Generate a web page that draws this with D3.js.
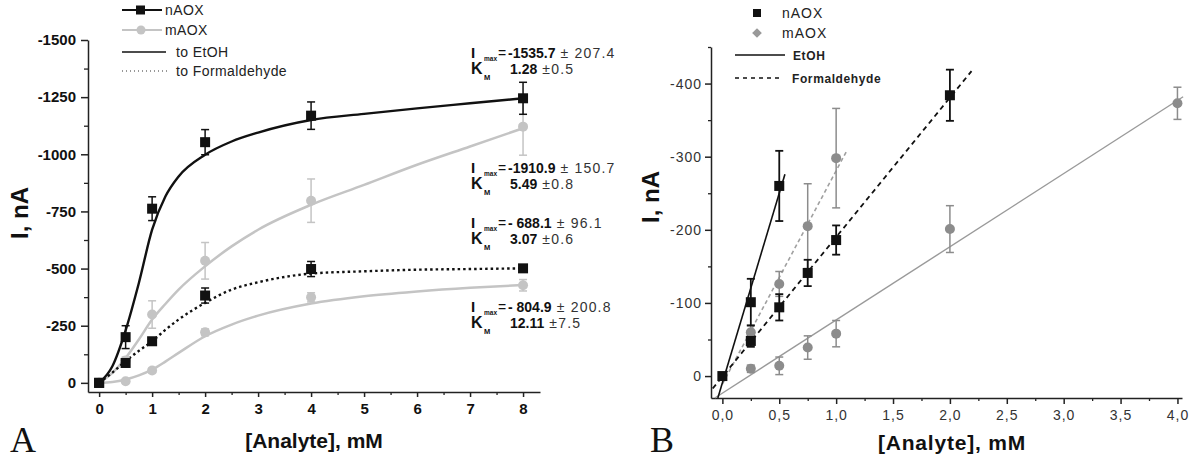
<!DOCTYPE html>
<html><head><meta charset="utf-8">
<script src="https://cdn.jsdelivr.net/npm/d3@7"></script>
<style>
body{margin:0;background:#fff;}
svg{display:block;font-family:'Liberation Sans',Arial,sans-serif;}
</style></head>
<body>
<script>
// ---------- DATA: panel A ----------
const concA = [0, 0.5, 1, 2, 4, 8];
const nAOX_EtOH_A = [0, -200, -762, -1053, -1169, -1245];
const nAOX_EtOH_A_err = [0, 50, 52, 55, 60, 70];
const mAOX_hi_A = [0, -98, -299, -534, -797, -1121];
const mAOX_hi_A_err = [0, 15, 60, 80, 95, 125];
const nAOX_Form_A = [0, -87, -182, -382, -498, -501];
const nAOX_Form_A_err = [0, 15, 12, 33, 33, 10];
const mAOX_lo_A = [0, -7, -54, -221, -374, -427];
const mAOX_lo_A_err = [0, 5, 10, 15, 20, 25];

const fitX_A = [0, 0.25, 0.5, 0.75, 1, 1.25, 1.5, 2, 2.5, 3, 4, 5, 6, 7, 8];
const fit_nEtOH_A = [0, -73, -230, -437, -670, -815, -903, -998, -1056, -1095, -1150, -1177, -1201, -1223, -1245];
const fit_mHi_A = [0, -44, -109, -190, -277, -345, -408, -510, -597, -670, -779, -866, -954, -1034, -1114];
const fit_nForm_A = [0, -45, -95, -140, -182, -232, -277, -350, -408, -440, -478, -488, -495, -498, -501];
const fit_mLo_A = [0, -4, -15, -33, -58, -93, -131, -204, -255, -294, -347, -379, -400, -416, -428];

const xTicksA = [0, 1, 2, 3, 4, 5, 6, 7, 8];
const xMinorA = [0.5, 1.5, 2.5, 3.5, 4.5, 5.5, 6.5, 7.5];
const yTicksA = [0, -250, -500, -750, -1000, -1250, -1500];
const yMinorA = [-125, -375, -625, -875, -1125, -1375];

const annImax = ["-1535.7", "-1910.9", "- 688.1", "- 804.9"];
const annImaxErr = ["207.4", "150.7", "96.1", "200.8"];
const annKm = ["1.28", "5.49", "3.07", "12.11"];
const annKmErr = ["0.5", "0.8", "0.6", "7.5"];

const legendA = ["nAOX", "mAOX", "to EtOH", "to Formaldehyde"];

// ---------- DATA: panel B ----------
const conc_nEtOH_B = [0, 0.25, 0.5];
const val_nEtOH_B = [0, -101, -260];
const err_nEtOH_B = [0, 32, 48];
const conc_nForm_B = [0.25, 0.5, 0.75, 1, 2];
const val_nForm_B = [-48, -94, -141, -186, -384];
const err_nForm_B = [8, 18, 18, 20, 35];
const conc_mForm_B = [0.25, 0.5, 0.75, 1];
const val_mForm_B = [-60, -126, -205, -298];
const err_mForm_B = [10, 17, 58, 68];
const conc_mEtOH_B = [0.25, 0.5, 0.75, 1, 2, 4];
const val_mEtOH_B = [-10, -14, -39, -58, -201, -373];
const err_mEtOH_B = [5, 12, 16, 18, 32, 22];

const fitX_nEtOH_B = [-0.04, 0.55], fitY_nEtOH_B = [30, -276];
const fitX_nForm_B = [-0.085, 2.19], fitY_nForm_B = [17, -417];
const fitX_mForm_B = [0, 1.1], fitY_mForm_B = [11, -310];
const fitX_mEtOH_B = [-0.066, 4.05], fitY_mEtOH_B = [30, -382];

const xTicksB = [0, 0.5, 1, 1.5, 2, 2.5, 3, 3.5, 4];
const xMinorB = [0.25, 0.75, 1.25, 1.75, 2.25, 2.75, 3.25, 3.75];
const yTicksB = [0, -100, -200, -300, -400];
const yMinorB = [-50, -150, -250, -350, -450];

const legendB = ["nAOX", "mAOX", "EtOH", "Formaldehyde"];

// ---------- DRAW ----------
const svg = d3.select("body").append("svg").attr("width", 1200).attr("height", 460);
const zip = (xs, ys) => xs.map((x, i) => [x, ys[i]]);
const LIGHT = "#c4c4c4", DARKGRAY = "#8c8c8c";

// ===== Panel A =====
const xA = d3.scaleLinear().domain([-0.21, 8.32]).range([88, 540]);
const yA = d3.scaleLinear().domain([40, -1500]).range([392, 40]);
const gA = svg.append("g");

function axisStyle(g, color) {
  g.selectAll("path.domain").attr("stroke", color).attr("stroke-width", 1.5);
  g.selectAll(".tick line").attr("stroke", color).attr("stroke-width", 1.5);
}
// x axis
const gxA = gA.append("g").attr("transform", "translate(0,392)")
  .call(d3.axisBottom(xA).tickValues(xTicksA).tickSize(5).tickSizeOuter(0).tickFormat(d => String(d)));
axisStyle(gxA, "#222");
gxA.selectAll("text").attr("font-size", 15).attr("font-weight", "bold").attr("fill", "#111").attr("dy", "0.9em").attr("y", 8);
gA.append("g").attr("transform", "translate(0,392)")
  .call(d3.axisBottom(xA).tickValues(xMinorA).tickSize(3).tickFormat(""))
  .call(g => { g.select("path.domain").remove(); g.selectAll("line").attr("stroke", "#222").attr("stroke-width", 1.3); });
// y axis
const gyA = gA.append("g").attr("transform", "translate(88,0)")
  .call(d3.axisLeft(yA).tickValues(yTicksA).tickSize(7).tickSizeOuter(0).tickFormat(d => String(d)));
axisStyle(gyA, "#222");
gyA.selectAll("text").attr("font-size", 15).attr("font-weight", "bold").attr("fill", "#111").attr("x", -12);
gA.append("g").attr("transform", "translate(88,0)")
  .call(d3.axisLeft(yA).tickValues(yMinorA).tickSize(4).tickFormat(""))
  .call(g => { g.select("path.domain").remove(); g.selectAll("line").attr("stroke", "#222").attr("stroke-width", 1.3); });

// titles
gA.append("text").attr("x", 314).attr("y", 448).attr("text-anchor", "middle")
  .attr("font-size", 21).attr("font-weight", "bold").attr("fill", "#111").text("[Analyte], mM");
gA.append("text").attr("transform", "translate(28,213) rotate(-90)").attr("text-anchor", "middle")
  .attr("font-size", 24).attr("font-weight", "bold").attr("fill", "#111").text("I, nA");
gA.append("text").attr("x", 10).attr("y", 452).attr("font-family", "'Liberation Serif','Times New Roman',serif")
  .attr("font-size", 36).attr("fill", "#111").text("A");

// curves
const lineA = d3.line().x(d => xA(d[0])).y(d => yA(d[1])).curve(d3.curveMonotoneX);
gA.append("path").datum(zip(fitX_A, fit_mLo_A)).attr("d", lineA).attr("fill", "none").attr("stroke", LIGHT).attr("stroke-width", 2.5);
gA.append("path").datum(zip(fitX_A, fit_mHi_A)).attr("d", lineA).attr("fill", "none").attr("stroke", LIGHT).attr("stroke-width", 2.5);
gA.append("path").datum(zip(fitX_A, fit_nForm_A)).attr("d", lineA).attr("fill", "none").attr("stroke", "#111").attr("stroke-width", 2.4).attr("stroke-dasharray", "2.5,3");
gA.append("path").datum(zip(fitX_A, fit_nEtOH_A)).attr("d", lineA).attr("fill", "none").attr("stroke", "#111").attr("stroke-width", 2.4);

function errBars(g, xs, ys, es, xS, yS, color, w, cap) {
  const d = xs.map((x, i) => ({ x, y: ys[i], e: es[i] })).filter(d => d.e > 0);
  const eg = g.append("g").attr("stroke", color).attr("stroke-width", w);
  eg.selectAll(".v").data(d).join("line").attr("x1", d => xS(d.x)).attr("x2", d => xS(d.x))
    .attr("y1", d => yS(d.y - d.e)).attr("y2", d => yS(d.y + d.e));
  eg.selectAll(".t").data(d).join("line").attr("x1", d => xS(d.x) - cap).attr("x2", d => xS(d.x) + cap)
    .attr("y1", d => yS(d.y - d.e)).attr("y2", d => yS(d.y - d.e));
  eg.selectAll(".b").data(d).join("line").attr("x1", d => xS(d.x) - cap).attr("x2", d => xS(d.x) + cap)
    .attr("y1", d => yS(d.y + d.e)).attr("y2", d => yS(d.y + d.e));
}
function squares(g, xs, ys, xS, yS, color, s) {
  g.append("g").selectAll("rect").data(zip(xs, ys)).join("rect")
    .attr("x", d => xS(d[0]) - s / 2).attr("y", d => yS(d[1]) - s / 2).attr("width", s).attr("height", s).attr("fill", color);
}
function circles(g, xs, ys, xS, yS, color, r) {
  g.append("g").selectAll("circle").data(zip(xs, ys)).join("circle")
    .attr("cx", d => xS(d[0])).attr("cy", d => yS(d[1])).attr("r", r).attr("fill", color);
}
errBars(gA, concA, mAOX_lo_A, mAOX_lo_A_err, xA, yA, LIGHT, 1.5, 4);
errBars(gA, concA, mAOX_hi_A, mAOX_hi_A_err, xA, yA, LIGHT, 1.5, 4);
errBars(gA, concA, nAOX_Form_A, nAOX_Form_A_err, xA, yA, "#111", 1.5, 4);
errBars(gA, concA, nAOX_EtOH_A, nAOX_EtOH_A_err, xA, yA, "#111", 1.5, 4);
circles(gA, concA, mAOX_lo_A, xA, yA, LIGHT, 5);
circles(gA, concA, mAOX_hi_A, xA, yA, LIGHT, 5);
squares(gA, concA, nAOX_Form_A, xA, yA, "#111", 10);
squares(gA, concA, nAOX_EtOH_A, xA, yA, "#111", 10);

// legend A
const legAy = [10, 30, 52, 71];
const lgA = gA.append("g");
lgA.append("line").attr("x1", 122).attr("x2", 162).attr("y1", legAy[0]).attr("y2", legAy[0]).attr("stroke", "#111").attr("stroke-width", 2);
lgA.append("rect").attr("x", 136).attr("y", legAy[0] - 4.5).attr("width", 9).attr("height", 9).attr("fill", "#111");
lgA.append("line").attr("x1", 122).attr("x2", 162).attr("y1", legAy[1]).attr("y2", legAy[1]).attr("stroke", LIGHT).attr("stroke-width", 2);
lgA.append("circle").attr("cx", 141).attr("cy", legAy[1]).attr("r", 4.5).attr("fill", LIGHT);
lgA.append("line").attr("x1", 122).attr("x2", 166).attr("y1", legAy[2]).attr("y2", legAy[2]).attr("stroke", "#111").attr("stroke-width", 1.3);
lgA.append("line").attr("x1", 122).attr("x2", 170).attr("y1", legAy[3]).attr("y2", legAy[3]).attr("stroke", "#333").attr("stroke-width", 1.2).attr("stroke-dasharray", "1,3");
const legAx = [165, 165, 176, 176];
lgA.selectAll("text").data(legendA).join("text").attr("x", (d, i) => legAx[i]).attr("y", (d, i) => legAy[i] + 5)
  .attr("font-size", 14).attr("letter-spacing", 0.4).attr("fill", "#222").text(d => d);

// annotations A
const annY = [58, 173, 228, 312];
const annG = gA.append("g").attr("fill", "#111");
annImax.forEach((v, i) => {
  const b = annY[i];
  annG.append("text").attr("x", 471).attr("y", b).attr("font-size", 15).attr("font-weight", "bold").text("I");
  annG.append("text").attr("x", 484).attr("y", b + 3).attr("font-size", 6.5).attr("font-weight", "bold").text("max");
  annG.append("text").attr("x", 498).attr("y", b).attr("font-size", 14).text("=");
  const t1 = annG.append("text").attr("x", 508).attr("y", b);
  t1.append("tspan").attr("font-size", 14).attr("font-weight", "bold").text(v);
  t1.append("tspan").attr("font-size", 14).attr("letter-spacing", 1.2).attr("fill", "#333").text(" ± " + annImaxErr[i]);
  annG.append("text").attr("x", 471).attr("y", b + 16).attr("font-size", 16).attr("font-weight", "bold").text("K");
  annG.append("text").attr("x", 484).attr("y", b + 22).attr("font-size", 7.5).attr("font-weight", "bold").text("M");
  const t2 = annG.append("text").attr("x", 510).attr("y", b + 16);
  t2.append("tspan").attr("font-size", 14).attr("font-weight", "bold").text(annKm[i]);
  t2.append("tspan").attr("font-size", 14).attr("letter-spacing", 1.2).attr("fill", "#333").text(" ±" + annKmErr[i]);
});

// ===== Panel B =====
const xB = d3.scaleLinear().domain([-0.1, 4.04]).range([711, 1182]);
const yB = d3.scaleLinear().domain([30, -450]).range([398, 47]);
const gB = svg.append("g");

const gxB = gB.append("g").attr("transform", "translate(0,398)")
  .call(d3.axisBottom(xB).tickValues(xTicksB).tickSize(6).tickSizeOuter(0).tickFormat(d => d3.format(".1f")(d).replace(".", ",")));
axisStyle(gxB, "#222");
gxB.selectAll("text").attr("font-size", 14).attr("letter-spacing", 1).attr("fill", "#333").attr("y", 12);
gB.append("g").attr("transform", "translate(0,398)")
  .call(d3.axisBottom(xB).tickValues(xMinorB).tickSize(3).tickFormat(""))
  .call(g => { g.select("path.domain").remove(); g.selectAll("line").attr("stroke", "#222").attr("stroke-width", 1.3); });
const gyB = gB.append("g").attr("transform", "translate(711,0)")
  .call(d3.axisLeft(yB).tickValues(yTicksB).tickSize(6).tickSizeOuter(0).tickFormat(d => String(d)));
axisStyle(gyB, "#222");
gyB.selectAll("text").attr("font-size", 14).attr("letter-spacing", 1).attr("fill", "#333").attr("x", -9);
gB.append("g").attr("transform", "translate(711,0)")
  .call(d3.axisLeft(yB).tickValues(yMinorB).tickSize(3).tickFormat(""))
  .call(g => { g.select("path.domain").remove(); g.selectAll("line").attr("stroke", "#222").attr("stroke-width", 1.3); });

gB.append("text").attr("x", 952).attr("y", 450).attr("text-anchor", "middle")
  .attr("font-size", 21).attr("font-weight", "bold").attr("letter-spacing", 0.8).attr("fill", "#111").text("[Analyte], mM");
gB.append("text").attr("transform", "translate(659,197) rotate(-90)").attr("text-anchor", "middle")
  .attr("font-size", 24).attr("font-weight", "bold").attr("fill", "#111").text("I, nA");
gB.append("text").attr("x", 650).attr("y", 452).attr("font-family", "'Liberation Serif','Times New Roman',serif")
  .attr("font-size", 36).attr("fill", "#111").text("B");

const lineB = d3.line().x(d => xB(d[0])).y(d => yB(d[1]));
gB.append("path").datum(zip(fitX_mEtOH_B, fitY_mEtOH_B)).attr("d", lineB).attr("stroke", "#9a9a9a").attr("stroke-width", 1.4).attr("fill", "none");
gB.append("path").datum(zip(fitX_mForm_B, fitY_mForm_B)).attr("d", lineB).attr("stroke", "#a0a0a0").attr("stroke-width", 1.6).attr("stroke-dasharray", "4,3").attr("fill", "none");
gB.append("path").datum(zip(fitX_nForm_B, fitY_nForm_B)).attr("d", lineB).attr("stroke", "#111").attr("stroke-width", 1.8).attr("stroke-dasharray", "5,4").attr("fill", "none");
gB.append("path").datum(zip(fitX_nEtOH_B, fitY_nEtOH_B)).attr("d", lineB).attr("stroke", "#111").attr("stroke-width", 1.6).attr("fill", "none");

errBars(gB, conc_mEtOH_B, val_mEtOH_B, err_mEtOH_B, xB, yB, DARKGRAY, 1.5, 4);
errBars(gB, conc_mForm_B, val_mForm_B, err_mForm_B, xB, yB, DARKGRAY, 1.5, 4);
errBars(gB, conc_nForm_B, val_nForm_B, err_nForm_B, xB, yB, "#111", 1.8, 4);
errBars(gB, conc_nEtOH_B, val_nEtOH_B, err_nEtOH_B, xB, yB, "#111", 1.8, 4);
circles(gB, conc_mEtOH_B, val_mEtOH_B, xB, yB, DARKGRAY, 5);
circles(gB, conc_mForm_B, val_mForm_B, xB, yB, DARKGRAY, 5);
squares(gB, conc_nForm_B, val_nForm_B, xB, yB, "#111", 10);
squares(gB, conc_nEtOH_B, val_nEtOH_B, xB, yB, "#111", 10);

// legend B
const lgB = gB.append("g");
const legBy = [13, 33, 55, 78];
lgB.append("rect").attr("x", 753).attr("y", legBy[0] - 4).attr("width", 8).attr("height", 8).attr("fill", "#111");
lgB.append("path").attr("d", d3.symbol(d3.symbolDiamond2, 60)()).attr("transform", `translate(757,${legBy[1]})`).attr("fill", "#999");
lgB.append("line").attr("x1", 735).attr("x2", 785).attr("y1", legBy[2]).attr("y2", legBy[2]).attr("stroke", "#111").attr("stroke-width", 1.5);
lgB.append("line").attr("x1", 735).attr("x2", 783).attr("y1", legBy[3]).attr("y2", legBy[3]).attr("stroke", "#111").attr("stroke-width", 1.5).attr("stroke-dasharray", "4,4");
const legBx = [782, 782, 793, 792];
lgB.selectAll("text").data(legendB).join("text").attr("x", (d, i) => legBx[i]).attr("y", (d, i) => legBy[i] + 5)
  .attr("font-size", (d, i) => i < 2 ? 14 : 12).attr("font-weight", (d, i) => i < 2 ? "normal" : "bold")
  .attr("letter-spacing", (d, i) => i < 2 ? 1 : 0.6).attr("fill", "#222").text(d => d);
</script>
</body></html>
